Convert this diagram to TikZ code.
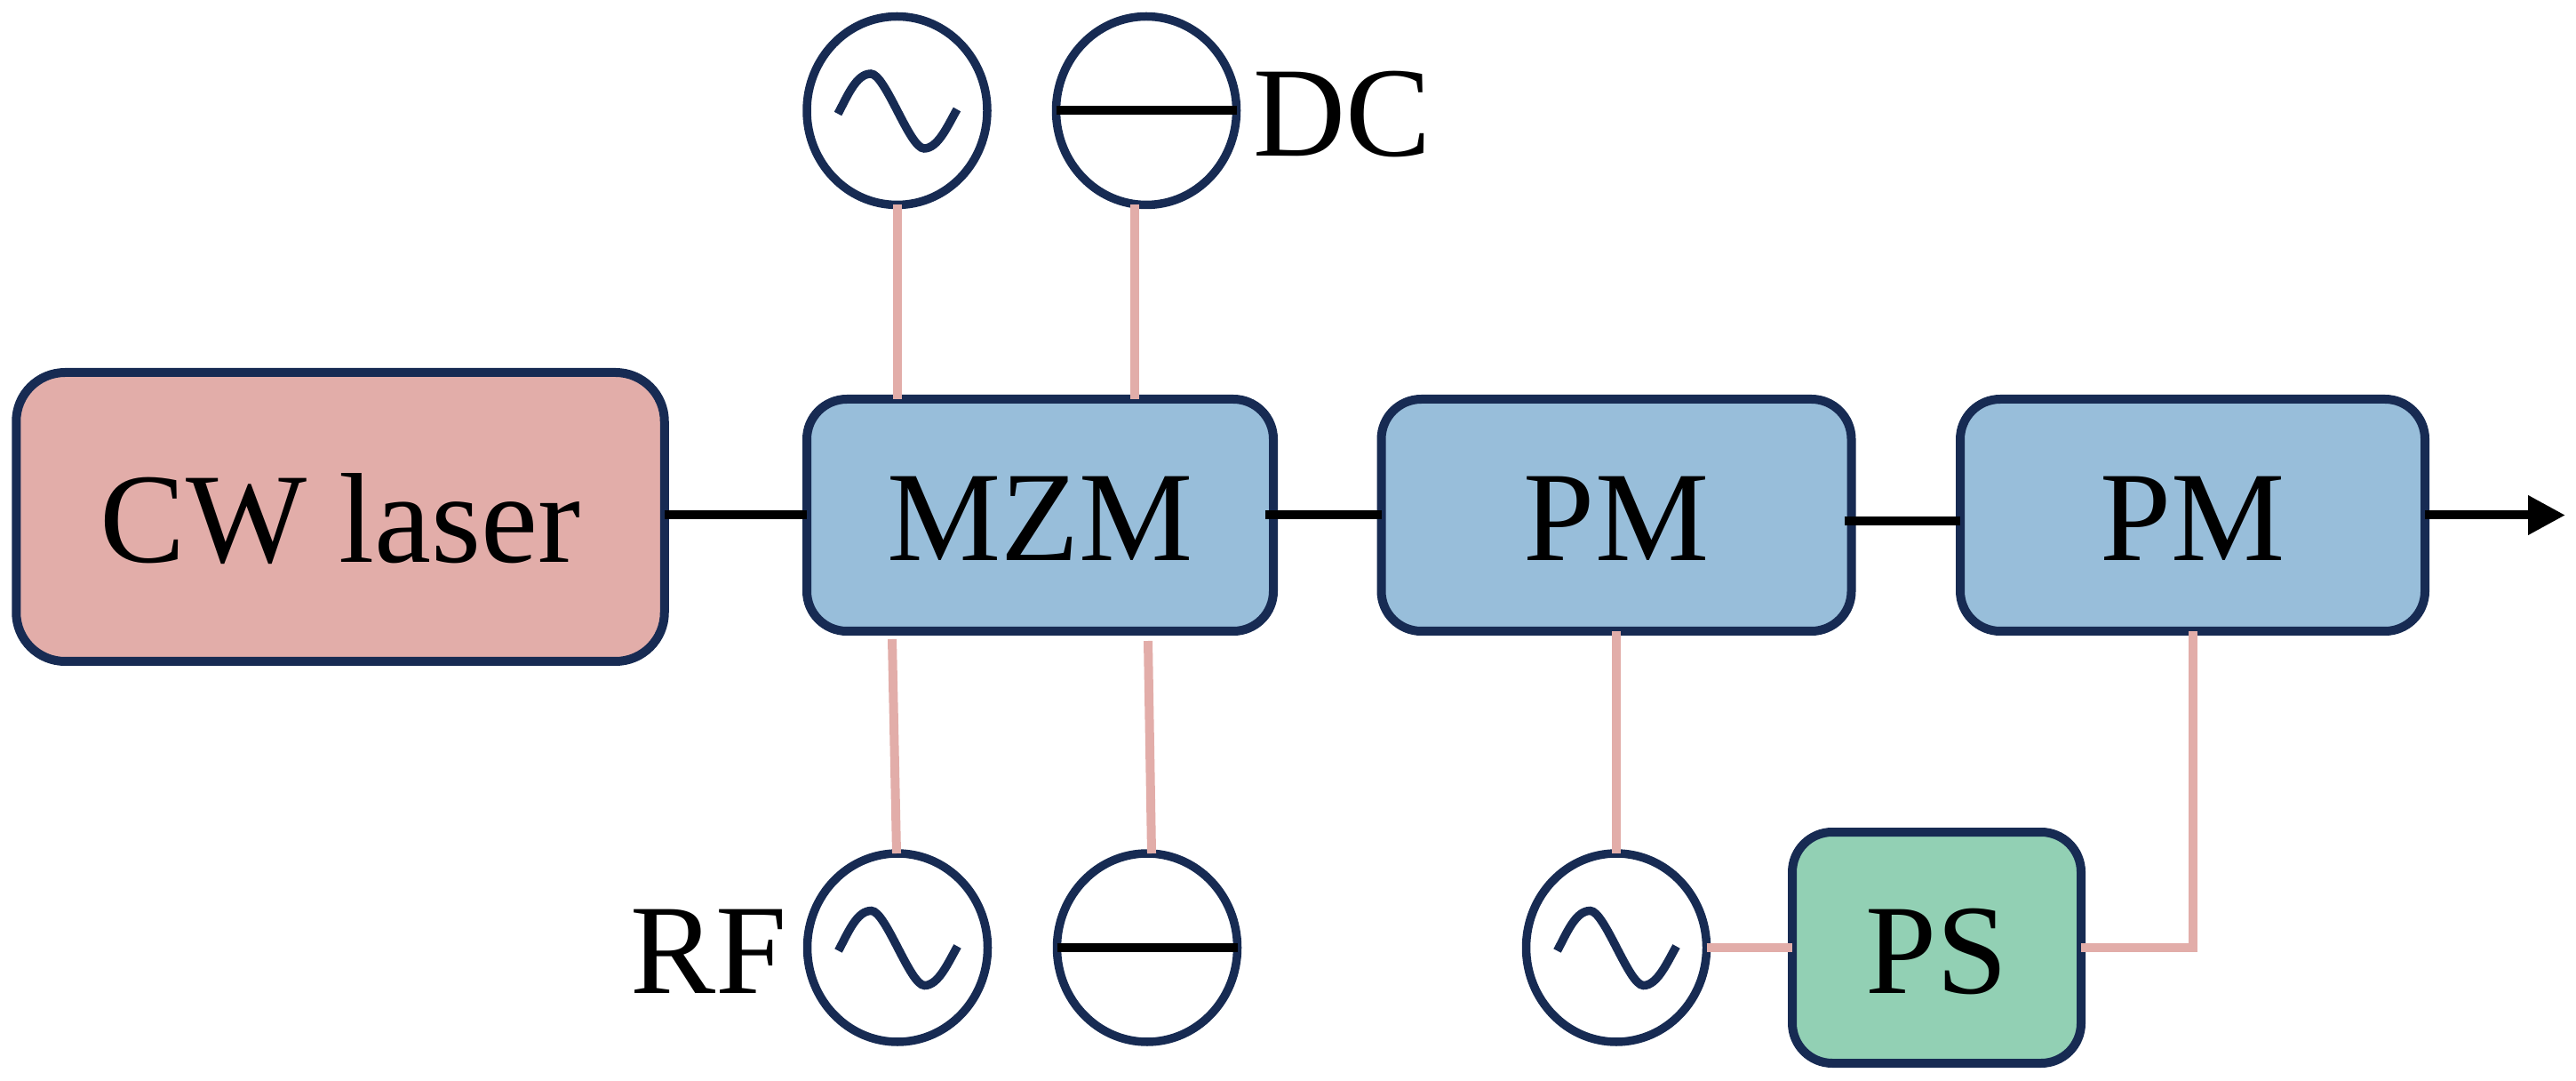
\documentclass[tikz,border=0pt]{standalone}
\usepackage{fontspec}
\setmainfont{Liberation Serif}
\usepackage{tikz}
\usetikzlibrary{arrows.meta}
\usetikzlibrary{positioning}
\usetikzlibrary{shapes.geometric}
\definecolor{boxnavy}{HTML}{172B53}
\definecolor{laserpink}{HTML}{E2ADA9}
\definecolor{modblue}{HTML}{98BEDA}
\definecolor{shiftgreen}{HTML}{92D0B4}
\tikzset{label text/.style = {font = \fontsize{41}{46}\selectfont, text = black, inner sep = 0, outer sep = 0, text height = 1.03cm, text depth = 0}}
\tikzset{blockbox/.style = {label text, draw = boxnavy, line width = 1mm, rounded corners = 0.45cm, minimum height = 2.61cm}}
\tikzset{source/.style = {ellipse, draw = boxnavy, line width = 0.95mm, inner sep = 0, outer sep = 0, minimum width = 2.03cm, minimum height = 2.12cm}}
\tikzset{optical/.style = {black, line width = 1mm}}
\tikzset{electrical/.style = {laserpink, line width = 1mm}}
\tikzset{wave/.style = {draw = boxnavy, line width = 0.95mm}}

\begin{document}
\begin{tikzpicture}
  \useasboundingbox (0, 0) rectangle (28.99, 12.15);

  \node [blockbox, fill = laserpink, minimum width = 7.295cm, minimum height = 3.25cm, rounded corners = 0.55cm] (laser) at (3.83, 6.335) {CW laser};
  \node [blockbox, fill = modblue, minimum width = 5.25cm] (mzm) at (11.705, 6.355) {MZM};
  \node [blockbox, fill = modblue, minimum width = 5.29cm] (pma) at (18.19, 6.355) {PM};
  \node [blockbox, fill = modblue, minimum width = 5.23cm] (pmb) at (24.675, 6.355) {PM};
  \node [blockbox, fill = shiftgreen, minimum width = 3.25cm, minimum height = 2.6cm] (ps) at (21.795, 1.49) {PS};

  \node [source] (rfa) at (10.095, 10.905) {};
  \node [source] (dca) at (12.90, 10.905) {};
  \node [source] (rfb) at (10.10, 1.49) {};
  \node [source] (dcb) at (12.91, 1.49) {};
  \node [source] (rfc) at (18.19, 1.49) {};

  \node [label text, right = 0.19cm of dca] (dclabel) {DC};
  \node [label text, left = 0.23cm of rfb] (rflabel) {RF};

  \foreach \osc in {rfa, rfb, rfc}
    \draw [wave, shift = {(\osc.center)}] (-0.665, -0.035) .. controls (-0.56, 0.16) and (-0.46, 0.415) .. (-0.295, 0.415)
      .. controls (-0.13, 0.415) and (0.14, -0.425) .. (0.305, -0.425)
      .. controls (0.46, -0.425) and (0.57, -0.17) .. (0.675, 0.015);
  \foreach \dc in {dca, dcb}
    \draw [optical] (\dc.west) -- (\dc.east);

  \coordinate (rfbtop) at (10.04, 4.96);
  \coordinate (dcbtop) at (12.92, 4.94);
  \coordinate (rfbend) at (10.09, 2.55);
  \coordinate (dcbend) at (12.96, 2.55);
  \coordinate (output) at (28.87, 6.355);

  \draw [optical] (mzm.west -| laser.east) -- (mzm.west);
  \draw [optical, shorten <= -0.09cm] (mzm.east) -- (pma.west);
  \draw [optical] ([xshift = -0.08cm, yshift = -0.07cm]pma.east) -- ([yshift = -0.07cm]pmb.west);
  \draw [optical, -{Triangle[length = 4.2mm, width = 4.2mm]}] (pmb.east) -- (output);

  \draw [electrical] (rfa.south) -- (rfa.south |- mzm.north);
  \draw [electrical] (dca.263) -- (dca.263 |- mzm.north);
  \draw [electrical] (rfbtop) -- (rfbend);
  \draw [electrical] (dcbtop) -- (dcbend);
  \draw [electrical] (pma.south) -- (rfc.north);
  \draw [electrical] (rfc.east) -- (ps.west);
  \draw [electrical] (ps.east) -- (ps.east -| pmb.south) -- (pmb.south);
\end{tikzpicture}
\end{document}
